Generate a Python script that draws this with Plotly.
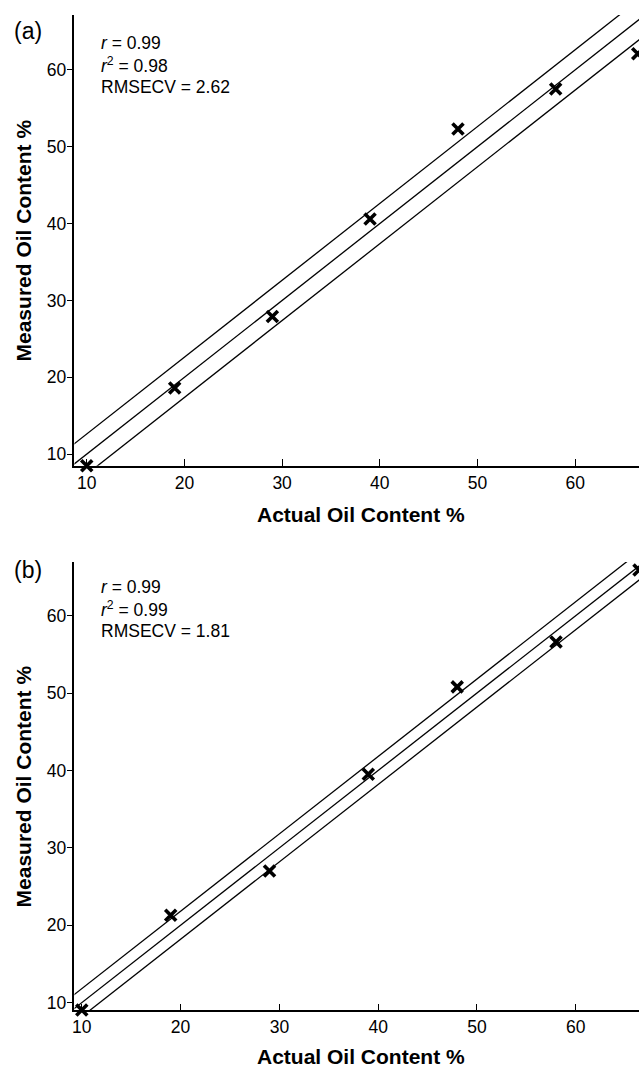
import plotly.graph_objects as go

# ---- data ----
actual = [10, 19, 29, 39, 48, 58, 66.4]
measured_a = [8.5, 18.6, 27.9, 40.6, 52.3, 57.5, 62.1]
measured_b = [9.05, 21.3, 27.0, 39.5, 50.8, 56.6, 65.9]
rmsecv_a = 2.62
rmsecv_b = 1.81
line_x = [0, 80]
tick_vals = [10, 20, 30, 40, 50, 60]
labels_a = ["<i>r</i> = 0.99", "<i>r</i><sup>2</sup> = 0.98", "RMSECV = 2.62"]
labels_b = ["<i>r</i> = 0.99", "<i>r</i><sup>2</sup> = 0.99", "RMSECV = 1.81"]

W, H = 639, 1068
FONT = "Liberation Sans, Arial, sans-serif"


def px(v):
    return 1 - v / H


fig = go.Figure()

for meas, rm, xa, ya in [(measured_a, rmsecv_a, "x", "y"), (measured_b, rmsecv_b, "x2", "y2")]:
    for off in [rm, 0, -rm]:
        fig.add_trace(go.Scatter(x=line_x, y=[v + off for v in line_x], mode="lines",
                                 line=dict(color="black", width=1.3), xaxis=xa, yaxis=ya,
                                 showlegend=False, hoverinfo="skip"))
    fig.add_trace(go.Scatter(x=actual, y=meas, mode="markers", cliponaxis=False,
                             marker=dict(symbol="x-thin", size=11, color="black",
                                         line=dict(color="black", width=3.6)),
                             xaxis=xa, yaxis=ya, showlegend=False))

common_x = dict(tickvals=tick_vals, ticks="inside", ticklen=7, tickwidth=1.3, tickcolor="black",
                showline=True, linecolor="black", linewidth=1.5, showgrid=False, zeroline=False,
                tickfont=dict(family=FONT, size=17.5, color="black"), ticklabelstandoff=0)
common_y = dict(tickvals=tick_vals, ticks="outside", ticklen=6, tickwidth=1.3, tickcolor="black",
                showline=True, linecolor="black", linewidth=1.5, showgrid=False, zeroline=False,
                tickfont=dict(family=FONT, size=17.5, color="black"), ticklabelstandoff=-3)

left = 72.7 / W
fig.update_layout(
    width=W, height=H, margin=dict(l=0, r=0, t=0, b=0),
    plot_bgcolor="white", paper_bgcolor="white",
    xaxis=dict(domain=[left, 1], range=[8.745, 66.53], anchor="y", **common_x),
    yaxis=dict(domain=[px(466.7), px(15)], range=[8.48, 67.14], anchor="x", **common_y),
    xaxis2=dict(domain=[left, 1], range=[9.26, 66.4], anchor="y2", **common_x),
    yaxis2=dict(domain=[px(1012.3), px(563)], range=[9.0, 66.94], anchor="x2", **common_y),
)

ann = []
for panel, lbls, ys, ty, xt_y, ylab_y in [
    ("(a)", labels_a, [43, 65, 87], 31, 515, 241),
    ("(b)", labels_b, [588, 610, 632], 571, 1058, 788),
]:
    ann.append(dict(text=panel, x=10 / W, y=px(ty), xref="paper", yref="paper",
                    xanchor="left", yanchor="middle", showarrow=False,
                    font=dict(family=FONT, size=23, color="black")))
    for t, yy in zip(lbls, ys):
        ann.append(dict(text=t, x=97 / W, y=px(yy), xref="paper", yref="paper",
                        xanchor="left", yanchor="middle", showarrow=False,
                        font=dict(family=FONT, size=17.5, color="black")))
    ann.append(dict(text="<b>Actual Oil Content %</b>", x=360 / W, y=px(xt_y), xref="paper",
                    yref="paper", xanchor="center", yanchor="middle", showarrow=False,
                    font=dict(family=FONT, size=21, color="black")))
    ann.append(dict(text="<b>Measured Oil Content %</b>", x=22 / W, y=px(ylab_y), xref="paper",
                    yref="paper", xanchor="center", yanchor="middle", showarrow=False, textangle=-90,
                    font=dict(family=FONT, size=21, color="black")))
fig.update_layout(annotations=ann)

fig.write_html("out.html")
